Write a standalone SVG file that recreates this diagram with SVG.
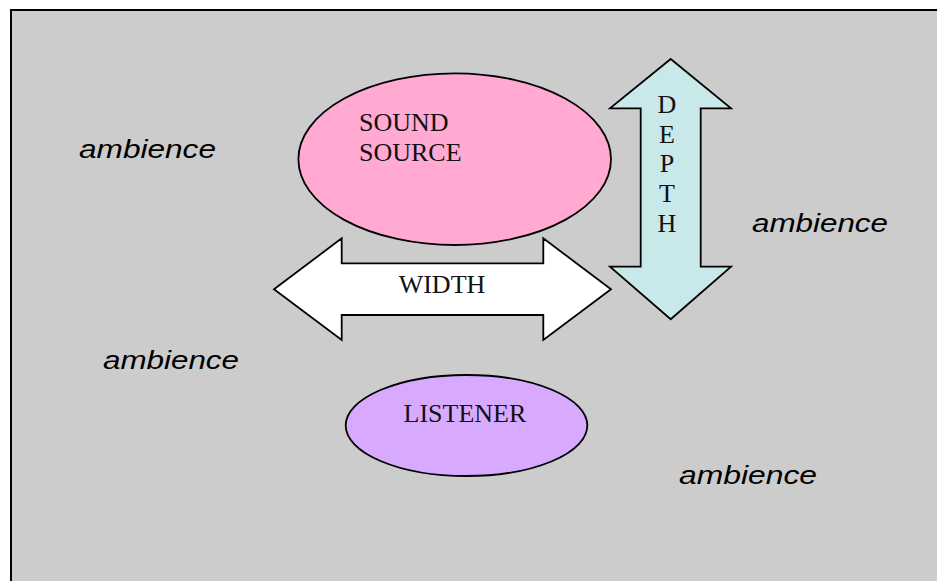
<svg xmlns="http://www.w3.org/2000/svg" width="937" height="581" viewBox="0 0 937 581">
  <style>
    .shape { stroke: #000; stroke-width: 1.8; stroke-linejoin: miter; }
    .label { font-family: "Liberation Serif", "Times New Roman", serif; font-size: 26px; fill: #111; }
    .amb { font-family: "Liberation Sans", Arial, sans-serif; font-style: italic; font-size: 25px; fill: #000; }
  </style>
  <rect x="0" y="0" width="937" height="581" fill="#ffffff"/>
  <!-- backdrop panel -->
  <rect x="11" y="10" width="1000" height="1000" fill="#cccccc" stroke="#000" stroke-width="2"/>

  <g id="ambience-labels">
    <text class="amb" x="79" y="158" textLength="137" lengthAdjust="spacingAndGlyphs">ambience</text>
    <text class="amb" x="752" y="232" textLength="136" lengthAdjust="spacingAndGlyphs">ambience</text>
    <text class="amb" x="103" y="369" textLength="136" lengthAdjust="spacingAndGlyphs">ambience</text>
    <text class="amb" x="679" y="484" textLength="138" lengthAdjust="spacingAndGlyphs">ambience</text>
  </g>

  <g id="sound-source">
    <ellipse class="shape" cx="454.7" cy="159.2" rx="156.3" ry="85.8" fill="#ffa9d3"/>
    <text class="label" x="359" y="131">SOUND</text>
    <text class="label" x="359" y="161">SOURCE</text>
  </g>

  <g id="connectors">
    <g id="width-arrow">
      <polygon class="shape" fill="#ffffff"
        points="274,289.3 341.7,238.3 341.7,263.3 543.3,263.3 543.3,238.3 611,289.3 543.3,340 543.3,315 341.7,315 341.7,340"/>
      <text class="label" x="442" y="292.5" text-anchor="middle">WIDTH</text>
    </g>
    <g id="depth-arrow">
      <polygon class="shape" fill="#c9e8ea"
        points="670.7,59 731,108.3 700.7,108.3 700.7,266.7 731,266.7 670.7,319.3 610,266.7 640.7,266.7 640.7,108.3 610,108.3"/>
      <text class="label" x="667" y="112.7" text-anchor="middle">D</text>
      <text class="label" x="667" y="142.7" text-anchor="middle">E</text>
      <text class="label" x="667" y="172.3" text-anchor="middle">P</text>
      <text class="label" x="667" y="201.7" text-anchor="middle">T</text>
      <text class="label" x="667" y="231.7" text-anchor="middle">H</text>
    </g>
  </g>

  <g id="listener">
    <ellipse class="shape" cx="466.5" cy="425.5" rx="120.8" ry="50.5" fill="#d7aaff"/>
    <text class="label" x="403.5" y="422.3">LISTENER</text>
  </g>
</svg>
